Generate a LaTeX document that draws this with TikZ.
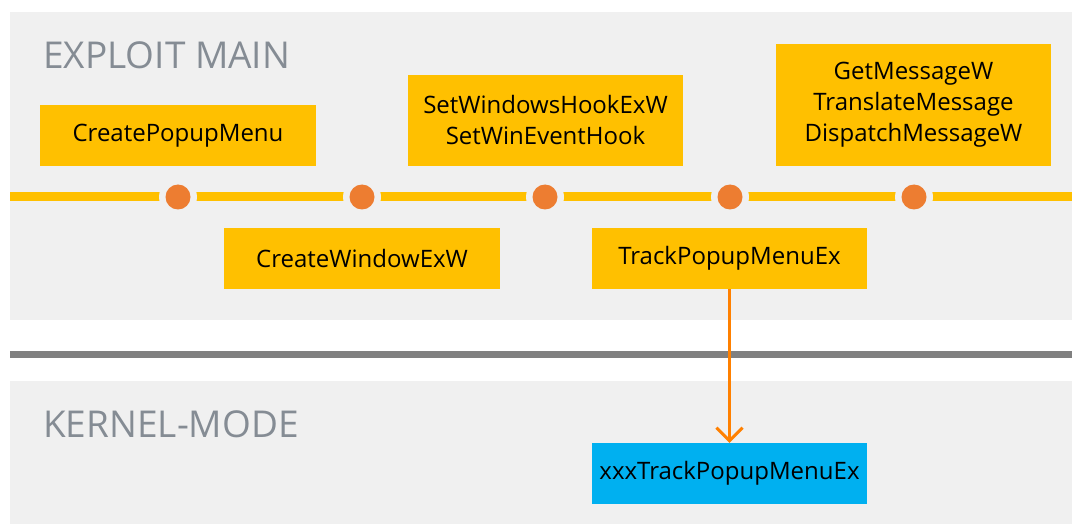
\documentclass[tikz,border=0pt]{standalone}
\usepackage{fontspec}
\setmainfont{Open Sans}
\usetikzlibrary{arrows.meta}
\definecolor{panelbg}{HTML}{F0F0F0}
\definecolor{boxyellow}{HTML}{FFC000}
\definecolor{dotorange}{HTML}{ED7D31}
\definecolor{arroworange}{HTML}{FF8000}
\definecolor{boxcyan}{HTML}{00B0F0}
\definecolor{sepgray}{HTML}{808080}
\definecolor{titlegray}{HTML}{858C94}
\tikzset{
  fnbox/.style={fill=boxyellow, draw=none, inner sep=0pt, align=center,
    minimum width=275pt, font=\fontsize{24}{31}\selectfont, text=black},
  kbox/.style={fnbox, fill=boxcyan},
  title/.style={anchor=base west, inner sep=0pt, text=titlegray, font=\fontsize{37}{40}\selectfont},
  dotgap/.style={fill=panelbg, draw=none, circle, minimum size=38pt, inner sep=0pt},
  dotmark/.style={fill=dotorange, draw=none, circle, minimum size=25pt, inner sep=0pt},
}
\begin{document}
\begin{tikzpicture}[x=1pt,y=-1pt]
\useasboundingbox (0,0) rectangle (1072,524);
\fill[white] (0,0) rectangle (1072,524);
% panels
\fill[panelbg] (10,12) rectangle (1072,320);
\fill[panelbg] (10,381) rectangle (1072,524);
\fill[sepgray] (10,351) rectangle (1072,358);
% titles
\node[title] (t1) at (43,69) {EXPLOIT MAIN};
\node[title] (t2) at (43,437) {KERNEL-MODE};
% timeline
\coordinate (tlA) at (10,197);
\coordinate (tlB) at (1072,197);
\draw[boxyellow, line width=9pt] (tlA) -- (tlB);
\foreach \n/\x in {d1/178,d2/362,d3/545,d4/730,d5/914}{
  \node[dotgap] at (\x,197) {};
  \node[dotmark] (\n) at (\x,197) {};
}
% boxes
\node[fnbox, minimum width=276pt, minimum height=61pt] (cpm) at (178,135.5) {CreatePopupMenu};
\node[fnbox, minimum height=91pt] (swh) at (545.5,120.5) {SetWindowsHookExW\\SetWinEventHook};
\node[fnbox, minimum height=122pt] (gmw) at (913.5,105) {GetMessageW\\TranslateMessage\\DispatchMessageW};
\node[fnbox, minimum width=276pt, minimum height=61pt] (cwe) at (362,258.5) {CreateWindowExW};
\node[fnbox, minimum height=61pt] (tpm) at (729.5,258.5) {TrackPopupMenuEx};
\node[kbox, minimum height=61pt] (xxx) at (729.5,473.5) {xxxTrackPopupMenuEx};
% arrow
\draw[arroworange, line width=3pt, -{Straight Barb[length=13pt,width=26pt,line width=3pt]}] (tpm.south) -- (xxx.north);
\end{tikzpicture}
\end{document}
